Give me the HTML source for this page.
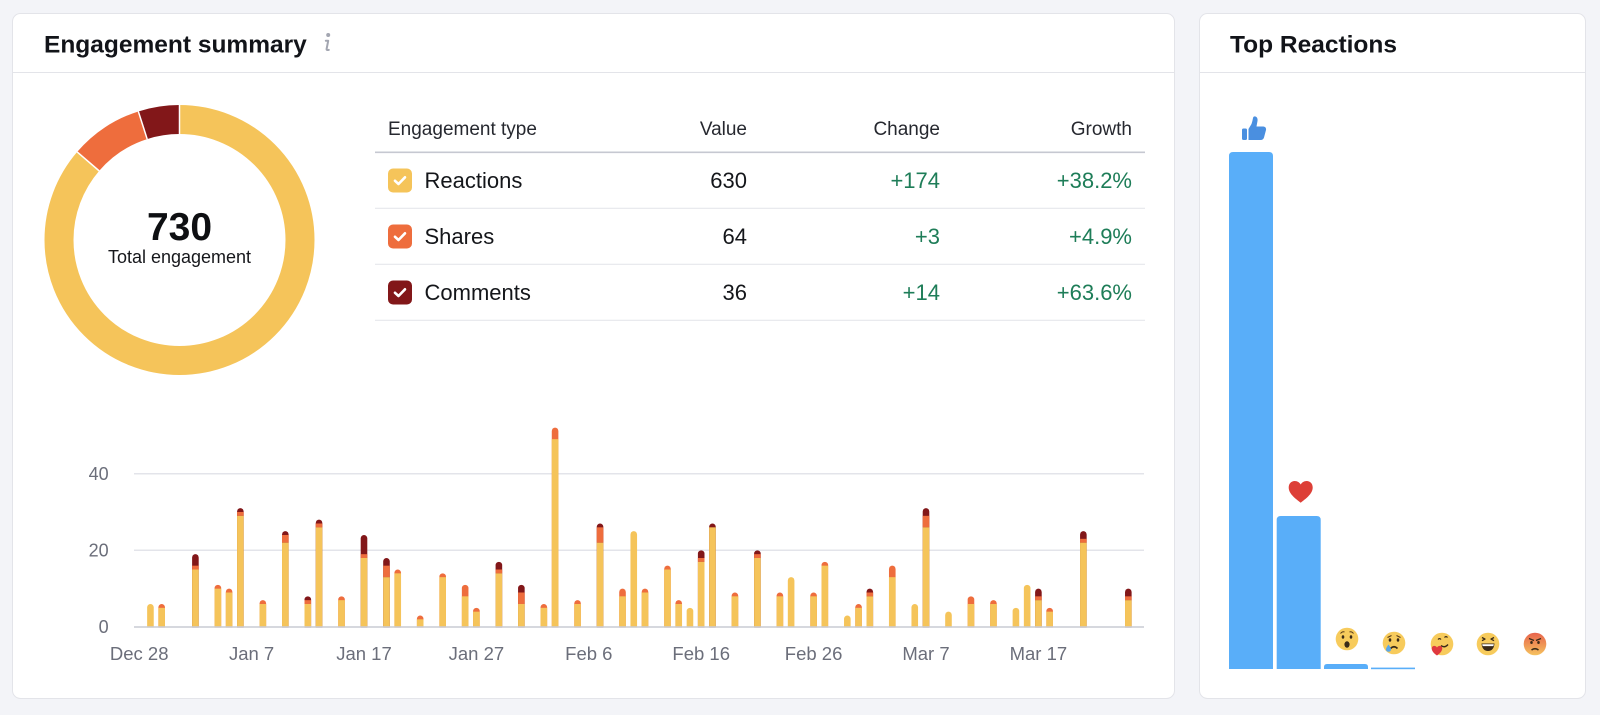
<!DOCTYPE html>
<html>
<head>
<meta charset="utf-8">
<style>
  html,body{margin:0;padding:0;background:#F3F4F8;}
  body{width:1600px;height:715px;overflow:hidden;}
  svg{display:block;font-family:"Liberation Sans",Arial,sans-serif;}
  .y{fill:#F5C45A}
  .o{fill:#EE6D3D}
  .d{fill:#821719}
</style>
</head>
<body>
<svg width="1600" height="715" viewBox="0 0 1600 715" xmlns="http://www.w3.org/2000/svg">
  <defs>
    <linearGradient id="ang" x1="0" y1="0" x2="0" y2="1">
      <stop offset="0" stop-color="#E8634C"/>
      <stop offset="1" stop-color="#F5C25E"/>
    </linearGradient>
  </defs>
  <!-- page background -->
  <rect x="0" y="0" width="1600" height="715" fill="#F3F4F8"/>

  <!-- Left panel -->
  <rect x="12.5" y="13.5" width="1162" height="685" rx="8" fill="#fff" stroke="#E3E4E9"/>
  <line x1="13" y1="72.5" x2="1174" y2="72.5" stroke="#E3E4E9" stroke-width="1"/>
  <text x="44" y="52.5" font-size="24.5" font-weight="700" fill="#121419">Engagement summary</text>
  <!-- info icon -->
  <circle cx="328.2" cy="35" r="2" fill="#A3A6B1"/>
  <path d="M325.8 40.8 L328.2 40.8 L326.6 49 Q326.4 50.4 328.8 49.9" stroke="#A3A6B1" stroke-width="2" fill="none" stroke-linecap="round" stroke-linejoin="round"/>

  <!-- Donut -->
  <g transform="rotate(-90 179.5 240)">
    <circle cx="179.5" cy="240" r="120.5" fill="none" stroke="#F5C45A" stroke-width="29" stroke-dasharray="653.4 757.12" stroke-dashoffset="0"/>
    <circle cx="179.5" cy="240" r="120.5" fill="none" stroke="#EE6D3D" stroke-width="29" stroke-dasharray="66.38 757.12" stroke-dashoffset="-653.4"/>
    <circle cx="179.5" cy="240" r="120.5" fill="none" stroke="#821719" stroke-width="29" stroke-dasharray="37.34 757.12" stroke-dashoffset="-719.78"/>
  </g>
  <line x1="179.5" y1="134" x2="179.5" y2="105" stroke="#fff" stroke-width="1.5"/>
  <line x1="99.14" y1="170.88" x2="77.16" y2="151.97" stroke="#fff" stroke-width="1.5"/>
  <line x1="147.18" y1="139.05" x2="138.34" y2="111.43" stroke="#fff" stroke-width="1.5"/>
  <text x="179.5" y="240" font-size="39" font-weight="700" fill="#0E0F12" text-anchor="middle">730</text>
  <text x="179.5" y="263" font-size="18" fill="#16171b" text-anchor="middle">Total engagement</text>

  <!-- Table -->
  <g font-size="19" fill="#26282F">
    <text x="388" y="135">Engagement type</text>
    <text x="747" y="135" text-anchor="end">Value</text>
    <text x="940" y="135" text-anchor="end">Change</text>
    <text x="1132" y="135" text-anchor="end">Growth</text>
  </g>
  <line x1="375" y1="152.3" x2="1145" y2="152.3" stroke="#C6C8D1" stroke-width="1.6"/>
  <line x1="375" y1="208.3" x2="1145" y2="208.3" stroke="#E6E7EC" stroke-width="1.2"/>
  <line x1="375" y1="264.3" x2="1145" y2="264.3" stroke="#E6E7EC" stroke-width="1.2"/>
  <line x1="375" y1="320.3" x2="1145" y2="320.3" stroke="#E6E7EC" stroke-width="1.2"/>

  <!-- checkboxes -->
  <rect x="388" y="168.5" width="24" height="24" rx="5" fill="#F5C45A"/>
  <path d="M395 180.8 L398.5 184 L405 177.3" stroke="#fff" stroke-width="2.6" fill="none" stroke-linecap="round" stroke-linejoin="round"/>
  <rect x="388" y="224.5" width="24" height="24" rx="5" fill="#EE6D3D"/>
  <path d="M395 236.8 L398.5 240 L405 233.3" stroke="#fff" stroke-width="2.6" fill="none" stroke-linecap="round" stroke-linejoin="round"/>
  <rect x="388" y="280.5" width="24" height="24" rx="5" fill="#821719"/>
  <path d="M395 292.8 L398.5 296 L405 289.3" stroke="#fff" stroke-width="2.6" fill="none" stroke-linecap="round" stroke-linejoin="round"/>

  <g font-size="22" fill="#14161A">
    <text x="424.5" y="188">Reactions</text>
    <text x="747" y="188" text-anchor="end">630</text>
    <text x="424.5" y="244">Shares</text>
    <text x="747" y="244" text-anchor="end">64</text>
    <text x="424.5" y="300">Comments</text>
    <text x="747" y="300" text-anchor="end">36</text>
  </g>
  <g font-size="22" fill="#1E7D58" text-anchor="end">
    <text x="940" y="188">+174</text>
    <text x="1132" y="188">+38.2%</text>
    <text x="940" y="244">+3</text>
    <text x="1132" y="244">+4.9%</text>
    <text x="940" y="300">+14</text>
    <text x="1132" y="300">+63.6%</text>
  </g>

  <!-- Bar chart grid -->
  <line x1="134" y1="473.7" x2="1144" y2="473.7" stroke="#E3E4EA" stroke-width="1.5"/>
  <line x1="134" y1="550.3" x2="1144" y2="550.3" stroke="#E3E4EA" stroke-width="1.5"/>
  <g font-size="18" fill="#6B6E7A" text-anchor="end">
    <text x="108.7" y="480">40</text>
    <text x="108.7" y="556.7">20</text>
    <text x="108.7" y="633">0</text>
  </g>

  <!-- Bars -->
  <g>
    <rect class="y" x="147.14" y="604" width="6.6" height="27" rx="3.3"/>

    <rect class="o" x="158.38" y="604" width="6.6" height="27" rx="3.3"/>
    <rect class="y" x="158.38" y="607.83" width="6.6" height="19.17"/>

    <rect class="d" x="192.10" y="554.17" width="6.6" height="76.83" rx="3.3"/>
    <rect class="o" x="192.10" y="565.67" width="6.6" height="3.83"/>
    <rect class="y" x="192.10" y="569.5" width="6.6" height="57.5"/>

    <rect class="o" x="214.58" y="584.83" width="6.6" height="46.17" rx="3.3"/>
    <rect class="y" x="214.58" y="588.67" width="6.6" height="38.33"/>

    <rect class="o" x="225.82" y="588.67" width="6.6" height="42.33" rx="3.3"/>
    <rect class="y" x="225.82" y="592.5" width="6.6" height="34.5"/>

    <rect class="d" x="237.06" y="508.17" width="6.6" height="122.83" rx="3.3"/>
    <rect class="o" x="237.06" y="512" width="6.6" height="3.83"/>
    <rect class="y" x="237.06" y="515.83" width="6.6" height="111.17"/>

    <rect class="o" x="259.54" y="600.17" width="6.6" height="30.83" rx="3.3"/>
    <rect class="y" x="259.54" y="604" width="6.6" height="23"/>

    <rect class="d" x="282.02" y="531.17" width="6.6" height="99.83" rx="3.3"/>
    <rect class="o" x="282.02" y="535" width="6.6" height="7.67"/>
    <rect class="y" x="282.02" y="542.67" width="6.6" height="84.33"/>

    <rect class="d" x="304.50" y="596.33" width="6.6" height="34.67" rx="3.3"/>
    <rect class="o" x="304.50" y="600.17" width="6.6" height="3.83"/>
    <rect class="y" x="304.50" y="604" width="6.6" height="23"/>

    <rect class="d" x="315.74" y="519.67" width="6.6" height="111.33" rx="3.3"/>
    <rect class="o" x="315.74" y="523.5" width="6.6" height="3.83"/>
    <rect class="y" x="315.74" y="527.33" width="6.6" height="99.67"/>

    <rect class="o" x="338.22" y="596.33" width="6.6" height="34.67" rx="3.3"/>
    <rect class="y" x="338.22" y="600.17" width="6.6" height="26.83"/>

    <rect class="d" x="360.70" y="535" width="6.6" height="96" rx="3.3"/>
    <rect class="o" x="360.70" y="554.17" width="6.6" height="3.83"/>
    <rect class="y" x="360.70" y="558" width="6.6" height="69"/>

    <rect class="d" x="383.18" y="558" width="6.6" height="73" rx="3.3"/>
    <rect class="o" x="383.18" y="565.67" width="6.6" height="11.5"/>
    <rect class="y" x="383.18" y="577.17" width="6.6" height="49.83"/>

    <rect class="o" x="394.42" y="569.5" width="6.6" height="61.5" rx="3.3"/>
    <rect class="y" x="394.42" y="573.33" width="6.6" height="53.67"/>

    <rect class="o" x="416.90" y="615.5" width="6.6" height="15.5" rx="3.3"/>
    <rect class="y" x="416.90" y="619.33" width="6.6" height="7.67"/>

    <rect class="o" x="439.38" y="573.33" width="6.6" height="57.67" rx="3.3"/>
    <rect class="y" x="439.38" y="577.17" width="6.6" height="49.83"/>

    <rect class="o" x="461.86" y="584.83" width="6.6" height="46.17" rx="3.3"/>
    <rect class="y" x="461.86" y="596.33" width="6.6" height="30.67"/>

    <rect class="o" x="473.10" y="607.83" width="6.6" height="23.17" rx="3.3"/>
    <rect class="y" x="473.10" y="611.67" width="6.6" height="15.33"/>

    <rect class="d" x="495.58" y="561.83" width="6.6" height="69.17" rx="3.3"/>
    <rect class="o" x="495.58" y="569.5" width="6.6" height="3.83"/>
    <rect class="y" x="495.58" y="573.33" width="6.6" height="53.67"/>

    <rect class="d" x="518.06" y="584.83" width="6.6" height="46.17" rx="3.3"/>
    <rect class="o" x="518.06" y="592.5" width="6.6" height="11.5"/>
    <rect class="y" x="518.06" y="604" width="6.6" height="23"/>

    <rect class="o" x="540.54" y="604" width="6.6" height="27" rx="3.3"/>
    <rect class="y" x="540.54" y="607.83" width="6.6" height="19.17"/>

    <rect class="o" x="551.78" y="427.67" width="6.6" height="203.33" rx="3.3"/>
    <rect class="y" x="551.78" y="439.17" width="6.6" height="187.83"/>

    <rect class="o" x="574.26" y="600.17" width="6.6" height="30.83" rx="3.3"/>
    <rect class="y" x="574.26" y="604" width="6.6" height="23"/>

    <rect class="d" x="596.74" y="523.5" width="6.6" height="107.5" rx="3.3"/>
    <rect class="o" x="596.74" y="527.33" width="6.6" height="15.33"/>
    <rect class="y" x="596.74" y="542.67" width="6.6" height="84.33"/>

    <rect class="o" x="619.22" y="588.67" width="6.6" height="42.33" rx="3.3"/>
    <rect class="y" x="619.22" y="596.33" width="6.6" height="30.67"/>

    <rect class="y" x="630.46" y="531.17" width="6.6" height="99.83" rx="3.3"/>

    <rect class="o" x="641.70" y="588.67" width="6.6" height="42.33" rx="3.3"/>
    <rect class="y" x="641.70" y="592.5" width="6.6" height="34.5"/>

    <rect class="o" x="664.18" y="565.67" width="6.6" height="65.33" rx="3.3"/>
    <rect class="y" x="664.18" y="569.5" width="6.6" height="57.5"/>

    <rect class="o" x="675.42" y="600.17" width="6.6" height="30.83" rx="3.3"/>
    <rect class="y" x="675.42" y="604" width="6.6" height="23"/>

    <rect class="y" x="686.66" y="607.83" width="6.6" height="23.17" rx="3.3"/>

    <rect class="d" x="697.90" y="550.33" width="6.6" height="80.67" rx="3.3"/>
    <rect class="o" x="697.90" y="558" width="6.6" height="3.83"/>
    <rect class="y" x="697.90" y="561.83" width="6.6" height="65.17"/>

    <rect class="d" x="709.14" y="523.5" width="6.6" height="107.5" rx="3.3"/>
    <rect class="y" x="709.14" y="527.33" width="6.6" height="99.67"/>

    <rect class="o" x="731.62" y="592.5" width="6.6" height="38.5" rx="3.3"/>
    <rect class="y" x="731.62" y="596.33" width="6.6" height="30.67"/>

    <rect class="d" x="754.10" y="550.33" width="6.6" height="80.67" rx="3.3"/>
    <rect class="o" x="754.10" y="554.17" width="6.6" height="3.83"/>
    <rect class="y" x="754.10" y="558" width="6.6" height="69"/>

    <rect class="o" x="776.58" y="592.5" width="6.6" height="38.5" rx="3.3"/>
    <rect class="y" x="776.58" y="596.33" width="6.6" height="30.67"/>

    <rect class="y" x="787.82" y="577.17" width="6.6" height="53.83" rx="3.3"/>

    <rect class="o" x="810.30" y="592.5" width="6.6" height="38.5" rx="3.3"/>
    <rect class="y" x="810.30" y="596.33" width="6.6" height="30.67"/>

    <rect class="o" x="821.54" y="561.83" width="6.6" height="69.17" rx="3.3"/>
    <rect class="y" x="821.54" y="565.67" width="6.6" height="61.33"/>

    <rect class="y" x="844.02" y="615.5" width="6.6" height="15.5" rx="3.3"/>

    <rect class="o" x="855.26" y="604" width="6.6" height="27" rx="3.3"/>
    <rect class="y" x="855.26" y="607.83" width="6.6" height="19.17"/>

    <rect class="d" x="866.50" y="588.67" width="6.6" height="42.33" rx="3.3"/>
    <rect class="o" x="866.50" y="592.5" width="6.6" height="3.83"/>
    <rect class="y" x="866.50" y="596.33" width="6.6" height="30.67"/>

    <rect class="o" x="888.98" y="565.67" width="6.6" height="65.33" rx="3.3"/>
    <rect class="y" x="888.98" y="577.17" width="6.6" height="49.83"/>

    <rect class="y" x="911.46" y="604" width="6.6" height="27" rx="3.3"/>

    <rect class="d" x="922.70" y="508.17" width="6.6" height="122.83" rx="3.3"/>
    <rect class="o" x="922.70" y="515.83" width="6.6" height="11.5"/>
    <rect class="y" x="922.70" y="527.33" width="6.6" height="99.67"/>

    <rect class="y" x="945.18" y="611.67" width="6.6" height="19.33" rx="3.3"/>

    <rect class="o" x="967.66" y="596.33" width="6.6" height="34.67" rx="3.3"/>
    <rect class="y" x="967.66" y="604" width="6.6" height="23"/>

    <rect class="o" x="990.14" y="600.17" width="6.6" height="30.83" rx="3.3"/>
    <rect class="y" x="990.14" y="604" width="6.6" height="23"/>

    <rect class="y" x="1012.62" y="607.83" width="6.6" height="23.17" rx="3.3"/>

    <rect class="y" x="1023.86" y="584.83" width="6.6" height="46.17" rx="3.3"/>

    <rect class="d" x="1035.10" y="588.67" width="6.6" height="42.33" rx="3.3"/>
    <rect class="o" x="1035.10" y="596.33" width="6.6" height="3.83"/>
    <rect class="y" x="1035.10" y="600.17" width="6.6" height="26.83"/>

    <rect class="o" x="1046.34" y="607.83" width="6.6" height="23.17" rx="3.3"/>
    <rect class="y" x="1046.34" y="611.67" width="6.6" height="15.33"/>

    <rect class="d" x="1080.06" y="531.17" width="6.6" height="99.83" rx="3.3"/>
    <rect class="o" x="1080.06" y="538.83" width="6.6" height="3.83"/>
    <rect class="y" x="1080.06" y="542.67" width="6.6" height="84.33"/>

    <rect class="d" x="1125.02" y="588.67" width="6.6" height="42.33" rx="3.3"/>
    <rect class="o" x="1125.02" y="596.33" width="6.6" height="3.83"/>
    <rect class="y" x="1125.02" y="600.17" width="6.6" height="26.83"/>
  </g>
  <!-- cover bar bottoms below baseline -->
  <rect x="128" y="627.6" width="1024" height="8" fill="#fff"/>
  <line x1="134" y1="627" x2="1144" y2="627" stroke="#C9CBD3" stroke-width="1.5"/>

  <!-- x labels -->
  <g font-size="18.5" fill="#6B6E7A" text-anchor="middle">
    <text x="139.2" y="660">Dec 28</text>
    <text x="251.6" y="660">Jan 7</text>
    <text x="364" y="660">Jan 17</text>
    <text x="476.4" y="660">Jan 27</text>
    <text x="588.8" y="660">Feb 6</text>
    <text x="701.2" y="660">Feb 16</text>
    <text x="813.6" y="660">Feb 26</text>
    <text x="926" y="660">Mar 7</text>
    <text x="1038.4" y="660">Mar 17</text>
  </g>

  <!-- Right panel -->
  <rect x="1199.5" y="13.5" width="386" height="685" rx="8" fill="#fff" stroke="#E3E4E9"/>
  <line x1="1200" y1="72.5" x2="1585" y2="72.5" stroke="#E3E4E9" stroke-width="1"/>
  <text x="1230" y="52.5" font-size="24.5" font-weight="700" fill="#121419">Top Reactions</text>

  <!-- reaction bars -->
  <path d="M1229 669 V156 Q1229 152 1233 152 H1269 Q1273 152 1273 156 V669 Z" fill="#59AEF9"/>
  <path d="M1276.7 669 V520 Q1276.7 516 1280.7 516 H1316.7 Q1320.7 516 1320.7 520 V669 Z" fill="#59AEF9"/>
  <path d="M1324 669 V667 Q1324 664 1327 664 H1365 Q1368 664 1368 667 V669 Z" fill="#59AEF9"/>
  <rect x="1371" y="667.6" width="44" height="1.6" fill="#59AEF9"/>

  <!-- thumbs up -->
  <rect x="1242" y="128.5" width="5" height="11.5" rx="1.5" fill="#4A8FE0"/>
  <path d="M1248.5 129 L1251.5 124 Q1252.5 121 1253 118 Q1253.5 116 1255.5 116.5 Q1258 117.5 1257.5 121 L1256.5 126.5 L1263.5 126.5 Q1266.5 127 1266 130 L1264 137.5 Q1263.3 140 1260.5 140 L1248.5 140 Z" fill="#4A8FE0"/>

  <!-- heart -->
  <path d="M1300.7 502.7 C1296 499 1288.7 494 1288.7 487.5 C1288.7 483.5 1291.5 481 1294.7 481 C1297.5 481 1299.5 482.5 1300.7 484.5 C1301.9 482.5 1303.9 481 1306.7 481 C1309.9 481 1312.7 483.5 1312.7 487.5 C1312.7 494 1305.4 499 1300.7 502.7 Z" fill="#DD3F37"/>

  <!-- wow -->
  <circle cx="1347" cy="639" r="11.3" fill="#F7CB5C"/>
  <path d="M1340.5 633.5 q2 -2.5 4 -1.5 M1349.5 632 q2 -1 4 1.5" stroke="#5A3D1A" stroke-width="1" fill="none"/>
  <ellipse cx="1343" cy="637" rx="1.3" ry="1.7" fill="#3A2A18"/>
  <ellipse cx="1351" cy="637" rx="1.3" ry="1.7" fill="#3A2A18"/>
  <ellipse cx="1347" cy="644.5" rx="2.6" ry="3.2" fill="#3A2A18"/>

  <!-- sad -->
  <circle cx="1394" cy="643" r="11.3" fill="#F7CB5C"/>
  <path d="M1387.5 637.5 l4 -2 M1396.5 635.5 l4 2" stroke="#5A3D1A" stroke-width="1.1" fill="none"/>
  <ellipse cx="1390" cy="640" rx="1.3" ry="1.7" fill="#3A2A18"/>
  <ellipse cx="1398" cy="640" rx="1.3" ry="1.7" fill="#3A2A18"/>
  <path d="M1390.5 648.5 q3.5 -3.5 7 0" stroke="#3A2A18" stroke-width="1.6" fill="none"/>
  <path d="M1388.5 644.5 q-3 4 -2.5 5.5 q0.5 1.7 2.5 1.7 q2 0 2.5 -1.7 q0.5 -1.5 -2.5 -5.5z" fill="#5AA7E8"/>

  <!-- care -->
  <circle cx="1442" cy="644" r="11.3" fill="#F7CB5C"/>
  <path d="M1438 639.5 q1.5 -1.8 3 0 M1444.5 637.5 q1.5 -1.8 3 0" stroke="#3A2A18" stroke-width="1.2" fill="none"/>
  <path d="M1441 645.5 q3.5 3 7 -1" stroke="#3A2A18" stroke-width="1.4" fill="none"/>
  <path d="M1437 655.5 c-6 -4 -6.5 -8.5 -3.5 -9.5 c1.5 -0.5 3 0.5 3.5 1.5 c0.5 -1 2 -2 3.5 -1.5 c3 1 2.5 5.5 -3.5 9.5z" fill="#E0393E"/>

  <!-- haha -->
  <circle cx="1488" cy="644" r="11.3" fill="#F7CB5C"/>
  <path d="M1482 637.5 l3 1.6 l-3 1.6 M1494 637.5 l-3 1.6 l3 1.6" stroke="#3A2A18" stroke-width="1.3" fill="none" stroke-linejoin="round"/>
  <path d="M1481.5 643.5 h13 q-0.8 7.5 -6.5 7.5 q-5.7 0 -6.5 -7.5z" fill="#3A2A18"/>
  <path d="M1482.2 644.3 h11.6 q-0.2 1.2 -0.5 1.8 h-10.6 q-0.3 -0.6 -0.5 -1.8z" fill="#fff"/>

  <!-- angry -->
  <circle cx="1535" cy="644" r="11.3" fill="url(#ang)"/>
  <path d="M1529 638.5 l5 2 M1541 638.5 l-5 2" stroke="#3A2A18" stroke-width="1.4" fill="none"/>
  <ellipse cx="1531.5" cy="642.5" rx="1.3" ry="1.5" fill="#3A2A18"/>
  <ellipse cx="1538.5" cy="642.5" rx="1.3" ry="1.5" fill="#3A2A18"/>
  <path d="M1531.5 650 q3.5 -2.6 7 0" stroke="#3A2A18" stroke-width="1.5" fill="none"/>
</svg>
</body>
</html>
